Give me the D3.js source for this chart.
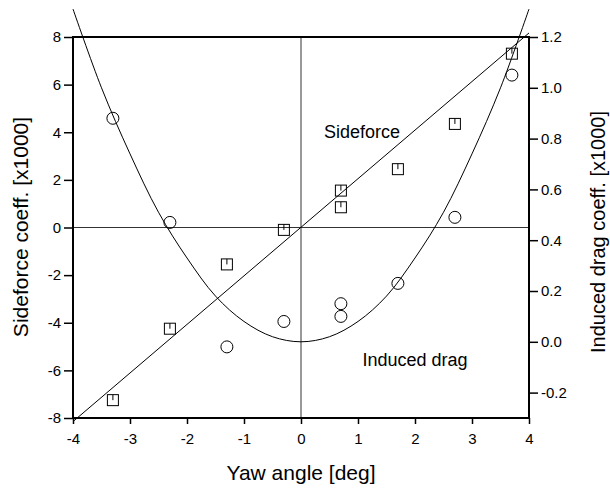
<!DOCTYPE html>
<html>
<head>
<meta charset="utf-8">
<script src="https://cdn.jsdelivr.net/npm/d3@7"></script>
<style>
body { margin: 0; background: #fff; }
text { font-family: "Liberation Sans", Arial, sans-serif; fill: #000; }
</style>
</head>
<body>
<div id="chart"></div>
<script>
// data
var yawAngle = [-3.3, -2.3, -1.3, -0.3, 0.7, 0.7, 1.7, 2.7, 3.7];
var sideforce = [-7.25, -4.25, -1.55, -0.1, 1.55, 0.85, 2.45, 4.35, 7.3];
var inducedDrag = [0.88, 0.47, -0.02, 0.08, 0.15, 0.10, 0.23, 0.49, 1.05];
// fitted lines
var sideFitX = [-4, 4];
var sideFitY = [-8.15, 8.17];
var dragFitX = [-4, -3.5, -3, -2.5, -2, -1.5, -1, -0.5, 0, 0.5, 1, 1.5, 2, 2.5, 3, 3.5, 4];
var dragFitY = [1.31, 1.0, 0.74, 0.51, 0.33, 0.18, 0.08, 0.02, 0, 0.02, 0.08, 0.18, 0.33, 0.51, 0.74, 1.0, 1.31];
var xTicks = [-4, -3, -2, -1, 0, 1, 2, 3, 4];
var yTicks = [-8, -6, -4, -2, 0, 2, 4, 6, 8];
var y2Ticks = [-0.2, 0, 0.2, 0.4, 0.6, 0.8, 1.0, 1.2];

var width = 610, height = 489;
var pL = 73, pR = 529, pT = 37, pB = 418;

var svg = d3.select("#chart").append("svg")
    .attr("width", width).attr("height", height);

var x = d3.scaleLinear().domain([-4, 4]).range([pL, pR]);
var y = d3.scaleLinear().domain([-8, 8]).range([pB, pT]);
var y2 = d3.scaleLinear().domain([-0.3, 1.2]).range([pB, pT]);

// plain hyphen instead of unicode minus
function fmt(f) {
    return function(d) { return d3.format(f)(d).replace("\u2212", "-"); };
}

// zero lines
svg.append("line").attr("x1", pL).attr("x2", pR)
    .attr("y1", y(0)).attr("y2", y(0))
    .attr("stroke", "#333").attr("stroke-width", 1);
svg.append("line").attr("x1", x(0)).attr("x2", x(0))
    .attr("y1", pT).attr("y2", pB)
    .attr("stroke", "#333").attr("stroke-width", 1);

// axes
var xAxis = svg.append("g").attr("transform", "translate(0," + pB + ")")
    .call(d3.axisBottom(x).tickValues(xTicks).tickSize(6).tickPadding(9).tickFormat(fmt("d")));
var yAxis = svg.append("g").attr("transform", "translate(" + pL + ",0)")
    .call(d3.axisLeft(y).tickValues(yTicks).tickSize(9).tickPadding(3).tickFormat(fmt("d")));
var y2Axis = svg.append("g").attr("transform", "translate(" + pR + ",0)")
    .call(d3.axisRight(y2).tickValues(y2Ticks).tickSize(9).tickPadding(3).tickFormat(fmt(".1f")));

[xAxis, yAxis, y2Axis].forEach(function(a) {
    a.selectAll("text").style("font-size", "15px").style("font-family", "Liberation Sans, Arial, sans-serif");
    a.selectAll("line").attr("stroke", "#000").attr("stroke-width", 1.5);
    a.select(".domain").remove();
});

// frame
svg.append("rect").attr("x", pL).attr("y", pT)
    .attr("width", pR - pL).attr("height", pB - pT)
    .attr("fill", "none").attr("stroke", "#000").attr("stroke-width", 2);

// fit lines
var sideLine = d3.line().x(function(d){ return x(d[0]); }).y(function(d){ return y(d[1]); });
svg.append("path").datum(d3.zip(sideFitX, sideFitY))
    .attr("d", sideLine).attr("fill", "none").attr("stroke", "#000").attr("stroke-width", 1);

var dragLine = d3.line().curve(d3.curveCatmullRom)
    .x(function(d){ return x(d[0]); }).y(function(d){ return y2(d[1]); });
svg.append("path").datum(d3.zip(dragFitX, dragFitY))
    .attr("d", dragLine).attr("fill", "none").attr("stroke", "#000").attr("stroke-width", 1);

// circles: induced drag
svg.append("g").selectAll("circle").data(d3.zip(yawAngle, inducedDrag))
    .enter().append("circle")
    .attr("cx", function(d){ return x(d[0]); })
    .attr("cy", function(d){ return y2(d[1]); })
    .attr("r", 6)
    .attr("fill", "none").attr("stroke", "#000").attr("stroke-width", 1);

// squares: sideforce (with small error tick inside)
var sq = svg.append("g").selectAll("g").data(d3.zip(yawAngle, sideforce))
    .enter().append("g")
    .attr("transform", function(d){ return "translate(" + x(d[0]) + "," + y(d[1]) + ")"; });
sq.append("rect").attr("x", -5.5).attr("y", -5.5).attr("width", 11).attr("height", 11)
    .attr("fill", "none").attr("stroke", "#000").attr("stroke-width", 1);
sq.append("line").attr("x1", 0).attr("x2", 0).attr("y1", -5.5).attr("y2", 0)
    .attr("stroke", "#000").attr("stroke-width", 1);

// labels
svg.append("text").attr("x", 362).attr("y", 138).attr("text-anchor", "middle")
    .style("font-size", "18px").text("Sideforce");
svg.append("text").attr("x", 415).attr("y", 366).attr("text-anchor", "middle")
    .style("font-size", "18px").text("Induced drag");

svg.append("text").attr("x", (pL + pR) / 2).attr("y", 480).attr("text-anchor", "middle")
    .style("font-size", "21px").text("Yaw angle [deg]");
svg.append("text").attr("transform", "translate(28,227) rotate(-90)")
    .attr("text-anchor", "middle").style("font-size", "21px").text("Sideforce coeff. [x1000]");
svg.append("text").attr("transform", "translate(605,232) rotate(-90)")
    .attr("text-anchor", "middle").style("font-size", "20px").text("Induced drag coeff. [x1000]");
</script>
</body>
</html>
